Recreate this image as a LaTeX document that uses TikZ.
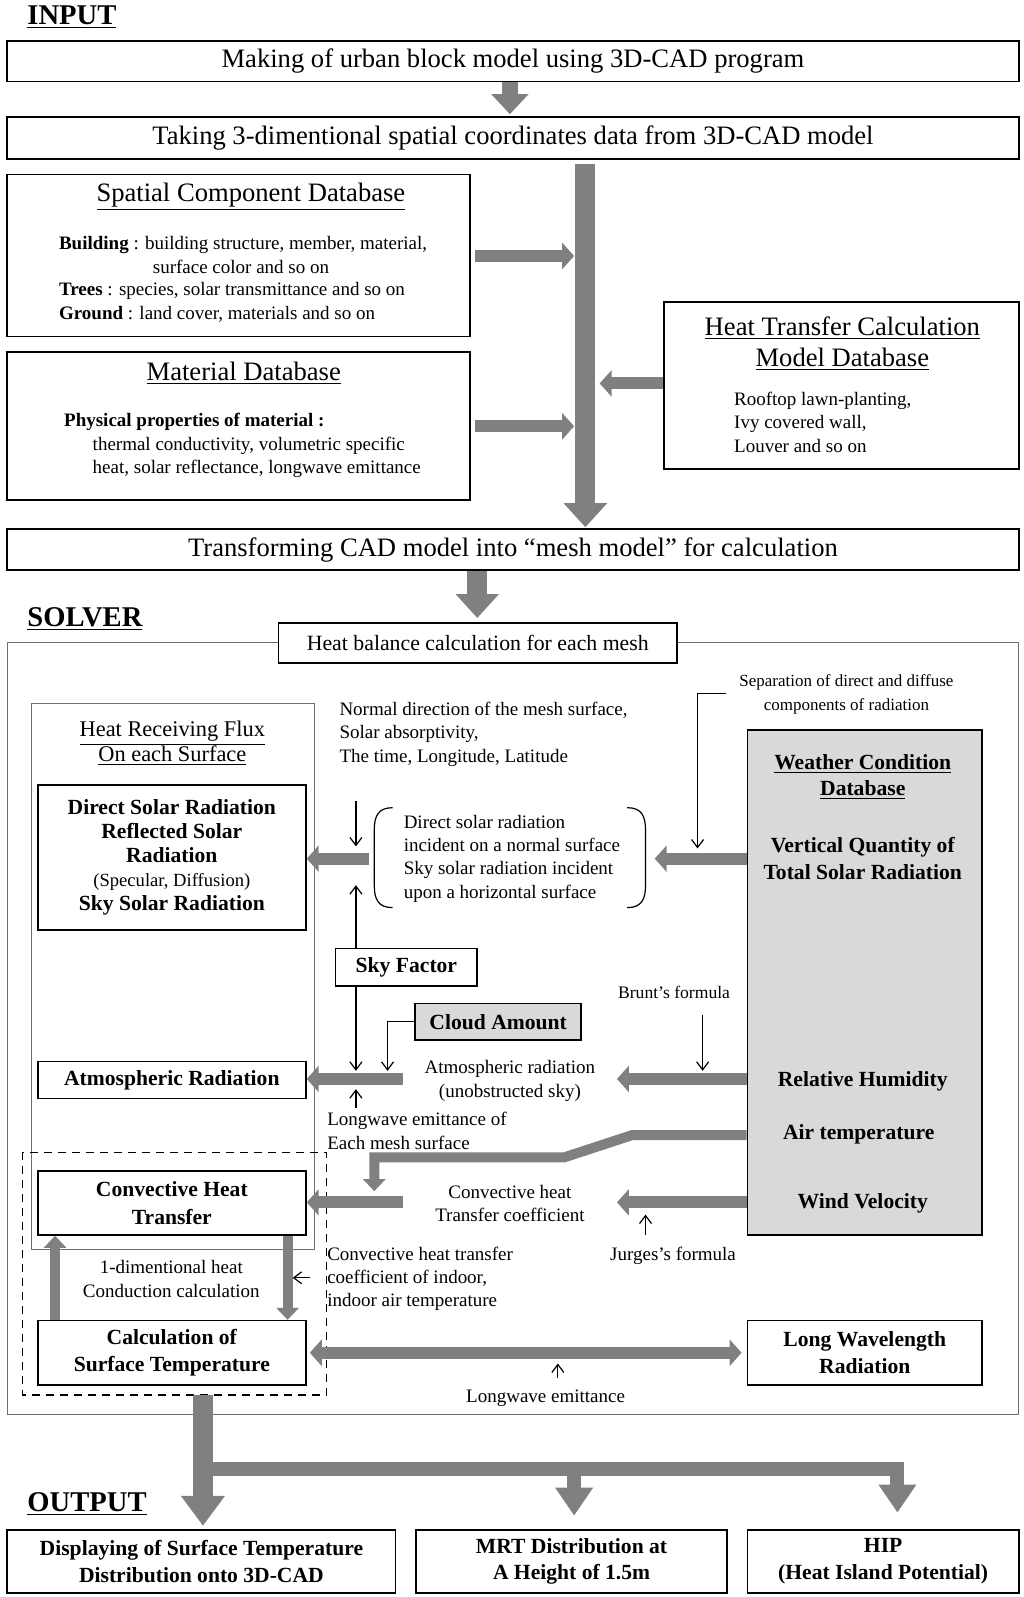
\documentclass[tikz,border=0pt]{standalone}
\usepackage{fontspec}
\setmainfont{Liberation Serif}
\usetikzlibrary{arrows.meta,fit,calc}
\definecolor{ag}{HTML}{808080}
\definecolor{wg}{HTML}{D9D9D9}
\definecolor{fr}{HTML}{707070}
\begin{document}
\begin{tikzpicture}[x=0.51pt,y=-0.51pt,
  box/.style={draw=black, line width=0.8pt, inner sep=0pt},
  thinframe/.style={draw=fr, line width=0.6pt, inner sep=0pt},
  lbl/.style={align=center, inner sep=0pt},
  fH/.style={font=\fontsize{14.3pt}{17pt}\selectfont\bfseries},
  fB/.style={font=\fontsize{13.3pt}{15.3pt}\selectfont},
  fM/.style={font=\fontsize{11.2pt}{12.75pt}\selectfont},
  fb/.style={font=\fontsize{10.8pt}{13.3pt}\selectfont\bfseries},
  fbw/.style={font=\fontsize{10.8pt}{13.8pt}\selectfont\bfseries},
  fs/.style={font=\fontsize{9.5pt}{11.7pt}\selectfont},
  fss/.style={font=\fontsize{8.5pt}{11.7pt}\selectfont},
  bigarrow/.style={draw=ag, line width=8pt, -{Triangle[width=18pt,length=10pt]}},
  hugearrow/.style={draw=ag, line width=10pt, -{Triangle[width=21pt,length=12pt]}},
  midarrow/.style={draw=ag, line width=6pt, -{Triangle[width=13pt,length=6pt]}},
  smarrow/.style={draw=ag, line width=5pt, line join=miter, -{Triangle[width=11pt,length=6pt]}},
  dblarrow/.style={draw=ag, line width=6pt, {Triangle[width=13pt,length=6pt]}-{Triangle[width=13pt,length=6pt]}},
  outarrow/.style={draw=ag, line width=7pt, line join=miter, -{Triangle[width=18pt,length=14pt]}},
  tarrow/.style={draw=black, line width=0.6pt, -{Straight Barb[length=4pt,width=6pt]}},
  tline/.style={draw=black, line width=0.6pt}
]
\useasboundingbox (0,0) rectangle (1004,1566);

% ---------------- INPUT ----------------
\node[fH, anchor=west] (hin) at (20,17) {\underline{INPUT}};
\node[box, fit={(7,40) (999,80)}] (b1) {};
\node[lbl, fB] (b1t) at (b1.center) {Making of urban block model using 3D-CAD program};
\node[box, fit={(7,115) (999,156)}] (b2) {};
\node[lbl, fB] (b2t) at (b2.center) {Taking 3-dimentional spatial coordinates data from 3D-CAD model};

\node[box, fit={(7,171) (461,330)}] (spatial) {};
\node[fB] (spt) at (246,193) {\underline{Spatial Component Database}};
\node[fs, anchor=west] (sp1) at (51,240) {\textbf{Building} : building structure, member, material,};
\node[fs, anchor=west] (sp2) at (143,262) {surface color and so on};
\node[fs, anchor=west] (sp3) at (51,285) {\textbf{Trees} : species, solar transmittance and so on};
\node[fs, anchor=west] (sp4) at (51,308) {\textbf{Ground} : land cover, materials and so on};

\node[box, fit={(7,345) (461,490)}] (material) {};
\node[fB] (mt) at (239,366) {\underline{Material Database}};
\node[fs, anchor=west] (m1) at (56,414) {\textbf{Physical properties of material :}};
\node[fs, anchor=west] (m2) at (84,437) {thermal conductivity, volumetric specific};
\node[fs, anchor=west] (m3) at (84,460) {heat, solar reflectance, longwave emittance};

\node[box, fit={(651,296) (999,460)}] (htc) {};
\node[lbl, fB] (htct) at (826,337) {\underline{Heat Transfer Calculation}\\\underline{Model Database}};
\node[fs, anchor=west, align=left] (htcb) at (713,414) {Rooftop lawn-planting,\\Ivy covered wall,\\Louver and so on};

\node[box, fit={(7,519) (999,559)}] (b3) {};
\node[lbl, fB] (b3t) at (b3.center) {Transforming CAD model into “mesh model” for calculation};

% input arrows
\draw[bigarrow] (b1.south -| 500,0) -- (500,112);
\coordinate (bartop) at (574,161);
\coordinate (barbot) at (574,517);
\draw[hugearrow] (bartop) -- (barbot);
\coordinate (sa) at (563,251);
\coordinate (ma) at (563,418);
\coordinate (ha) at (588,376);
\draw[midarrow] ($(spatial.east |- sa)+(4,0)$) -- (sa);
\draw[midarrow] ($(material.east |- ma)+(4,0)$) -- (ma);
\draw[midarrow] (htc.west |- ha) -- (ha);

% ---------------- SOLVER ----------------
\node[fH, anchor=west] (hsol) at (20,607) {\underline{SOLVER}};
\node[thinframe, fit={(7,630) (999,1387)}] (solver) {};
\node[box, fit={(273,611) (664,650)}, fill=white] (hb) {};
\node[lbl, font=\fontsize{10.9pt}{13pt}\selectfont] (hbt) at (hb.center) {Heat balance calculation for each mesh};
\draw[hugearrow] (b3.south -| 468,0) -- (468,606);

\node[thinframe, fit={(31,690) (308,1225)}] (hrf) {};
\node[lbl, fM] (hrft) at (169,729) {\underline{Heat Receiving Flux}\\\underline{On each Surface}};

\node[box, fit={(37,770) (300,912)}] (dsr) {};
\node[lbl] (dsrt) at (dsr.center) {\fontsize{10.8pt}{12.75pt}\selectfont\bfseries Direct Solar Radiation\\ \fontsize{10.8pt}{12.75pt}\selectfont\bfseries Reflected Solar\\ \fontsize{10.8pt}{12.75pt}\selectfont\bfseries Radiation\\ \fontsize{9.3pt}{12.75pt}\selectfont (Specular, Diffusion)\\ \fontsize{10.8pt}{12.75pt}\selectfont\bfseries Sky Solar Radiation};

\node[fs, anchor=west, align=left] (normdir) at (326,720) {Normal direction of the mesh surface,\\Solar absorptivity,\\The time, Longitude, Latitude};

\node[fs, anchor=west, align=left] (par) at (389,842) {Direct solar radiation\\incident on a normal surface\\Sky solar radiation incident\\upon a horizontal surface};
\draw[tline] (385,792) .. controls (371,792) and (367,800) .. (367,814) -- (367,868) .. controls (367,882) and (371,890) .. (385,890);
\draw[tline] (615,792) .. controls (629,792) and (633,800) .. (633,814) -- (633,868) .. controls (633,882) and (629,890) .. (615,890);

\node[lbl, fss] (sep) at (830,681) {Separation of direct and diffuse\\components of radiation};

\node[box, fit={(733,716) (963,1211)}, fill=wg] (weather) {};
\node[lbl, fb] (wt) at (846,762) {\underline{Weather Condition}\\\underline{Database}};
\node[lbl, fbw] (vq) at (846,842) {Vertical Quantity of\\Total Solar Radiation};
\node[lbl, fb] (rh) at (846,1060) {Relative Humidity};
\node[lbl, fb] (at) at (842,1112) {Air temperature};
\node[lbl, fb] (wv) at (846,1180) {Wind Velocity};

\node[box, fit={(329,930) (468,967)}] (sky) {};
\node[lbl, fb] (skyt) at (sky.center) {Sky Factor};
\node[box, fit={(407,984) (570,1020)}, fill=wg] (cloud) {};
\node[lbl, fb] (cloudt) at (cloud.center) {Cloud Amount};
\node[lbl, font=\fontsize{8.8pt}{11pt}\selectfont] (brunt) at (661,973) {Brunt’s formula};

\node[box, fit={(37,1041) (300,1077)}] (atm) {};
\node[lbl, fb] (atmt) at (atm.center) {Atmospheric Radiation};
\node[lbl, fs] (atmr) at (500,1060) {Atmospheric radiation\\(unobstructed sky)};
\node[fs, anchor=west, align=left] (lwe) at (314,1109) {Longwave emittance of\\Each mesh surface};

\node[box, fit={(37,1148) (300,1211)}] (conv) {};
\node[lbl, fbw] (convt) at (conv.center) {Convective Heat\\Transfer};
\node[lbl, fs] (chtc) at (500,1180) {Convective heat\\Transfer coefficient};
\node[lbl, fs] (jur) at (660,1231) {Jurges’s formula};
\node[fs, anchor=west, align=left] (indoor) at (314,1254) {Convective heat transfer\\coefficient of indoor,\\indoor air temperature};
\node[lbl, fs] (cond) at (168,1254) {1-dimentional heat\\Conduction calculation};

\node[box, fit={(37,1295) (300,1358)}] (calc) {};
\node[lbl, fbw] (calct) at (calc.center) {Calculation of\\Surface Temperature};
\node[box, fit={(733,1295) (963,1358)}] (lwr) {};
\node[lbl, fbw] (lwrt) at (lwr.center) {Long Wavelength\\Radiation};
\node[lbl, fs] (lwet) at (535,1371) {Longwave emittance};

\draw[dashed, line width=0.6pt, dash pattern=on 4pt off 3pt] (22,1130) rectangle (320,1368);
\coordinate (dashbot) at (199,1368);

% solver thick arrows
\coordinate (j1) at (362,842);
\draw[midarrow] (j1) -- (dsr.east |- j1);
\coordinate (p1) at (642,842);
\draw[midarrow] (weather.west |- p1) -- (p1);
\coordinate (j2) at (395,1058);
\draw[midarrow] (j2) -- (atm.east |- j2);
\coordinate (p2) at (605,1058);
\draw[midarrow] (weather.west |- p2) -- (p2);
\coordinate (j3) at (395,1179);
\draw[midarrow] (j3) -- (conv.east |- j3);
\coordinate (p3) at (605,1179);
\draw[midarrow] (weather.west |- p3) -- (p3);
\draw[smarrow] (weather.west |- 0,1113) -- (620,1113) -- (553,1135) -- (367,1135) -- (367,1168);
\draw[smarrow] (calc.north -| 54,0) -- (conv.south -| 54,0);
\draw[smarrow] (conv.south -| 282,0) -- (calc.north -| 282,0);
\draw[dblarrow] ($(calc.east)+(3,0)$) -- ($(lwr.west)+(-5,0)$);

% thin arrows
\draw[tarrow] (349,785) -- (349,830);
\draw[tarrow] (sky.north -| 349,0) -- (349,868);
\draw[tarrow] (sky.south -| 349,0) -- (349,1050);
\draw[tarrow] (cloud.west) -- (380,1002) -- (380,1050);
\draw[tarrow] (712,680) -- (684,680) -- (684,832);
\draw[tarrow] (689,995) -- (689,1050);
\draw[tarrow] (349,1086) -- (349,1068);
\draw[tarrow] (633,1211) -- (633,1191);
\draw[tarrow] (304,1253) -- (287,1253);
\draw[tarrow] (547,1351) -- (547,1337);

% ---------------- OUTPUT ----------------
\node[fH, anchor=west] (hout) at (20,1475) {\underline{OUTPUT}};
\node[box, fit={(7,1500) (388,1562)}] (o1) {};
\node[lbl, fb] (o1t) at (o1.center) {Displaying of Surface Temperature\\Distribution onto 3D-CAD};
\node[box, fit={(408,1500) (713,1562)}] (o2) {};
\node[lbl, fb] (o2t) at (o2.center) {MRT Distribution at\\A Height of 1.5m};
\node[box, fit={(733,1500) (999,1562)}] (o3) {};
\node[lbl, fb] (o3t) at (o3.center) {HIP\\(Heat Island Potential)};

\draw[outarrow] (199,1440) -| ($(o3.north -| 880,0)+(0,-16)$);
\draw[outarrow] (563,1440) -- ($(o2.north -| 563,0)+(0,-13)$);
\draw[hugearrow, -{Triangle[width=21pt,length=15pt]}] (dashbot) -- ($(o1.north -| 199,0)+(0,-3)$);
\end{tikzpicture}
\end{document}
